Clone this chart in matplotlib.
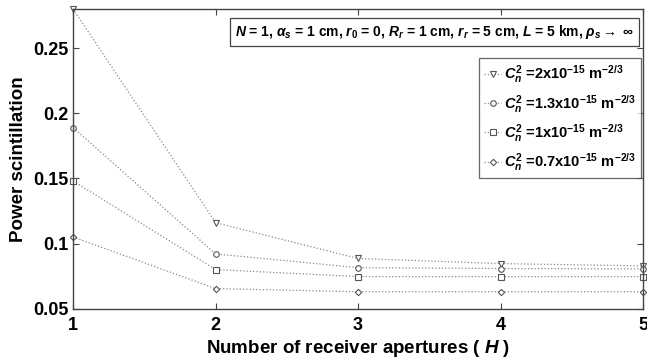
import matplotlib
matplotlib.use("Agg")
import matplotlib.pyplot as plt

# Szintillation über der Anzahl der Empfangsaperturen
apertures = [1, 2, 3, 4, 5]
scint_cn2_20 = [0.280, 0.116, 0.0885, 0.0846, 0.0828]
scint_cn2_13 = [0.189, 0.092, 0.0815, 0.0808, 0.0805]
scint_cn2_10 = [0.148, 0.080, 0.0746, 0.0746, 0.0746]
scint_cn2_07 = [0.105, 0.0654, 0.0630, 0.0630, 0.0630]

labels = [
    r"$C^{2}_{n}$ =2x10$^{-15}$ m$^{-2/3}$",
    r"$C^{2}_{n}$ =1.3x10$^{-15}$ m$^{-2/3}$",
    r"$C^{2}_{n}$ =1x10$^{-15}$ m$^{-2/3}$",
    r"$C^{2}_{n}$ =0.7x10$^{-15}$ m$^{-2/3}$",
]
markers = ["v", "o", "s", "D"]

plt.rcParams["font.family"] = ["Liberation Sans", "DejaVu Sans"]
plt.rcParams["font.weight"] = "bold"
plt.rcParams["mathtext.fontset"] = "custom"
plt.rcParams["mathtext.rm"] = "Liberation Sans:bold"
plt.rcParams["mathtext.it"] = "Liberation Sans:italic:bold"
plt.rcParams["mathtext.bf"] = "Liberation Sans:bold"

fig, ax = plt.subplots(figsize=(6.47, 3.61), dpi=100)
fig.subplots_adjust(left=0.113, right=0.994, top=0.975, bottom=0.145)

series = [scint_cn2_20, scint_cn2_13, scint_cn2_10, scint_cn2_07]
for values, marker, label in zip(series, markers, labels):
    ax.plot(apertures, values, linestyle=":", color="#8a8a8a", linewidth=0.9,
            marker=marker, markersize=4 if marker != "D" else 3.2,
            markerfacecolor="white", markeredgecolor="#555555",
            markeredgewidth=0.8, label=label, clip_on=False)

ax.set_xlim(1, 5)
ax.set_ylim(0.05, 0.28)
ax.set_xticks(apertures)
ax.set_yticks([0.05, 0.1, 0.15, 0.2, 0.25])
ax.set_yticklabels(["0.05", "0.1", "0.15", "0.2", "0.25"])
ax.tick_params(direction="in", top=True, right=True, labelsize=13, length=4,
               width=0.8, colors="#444444", labelcolor="black")
ax.tick_params(axis="x", pad=6)
for spine in ax.spines.values():
    spine.set_color("#444444")
    spine.set_linewidth(1.0)

ax.set_xlabel(r"Number of receiver apertures ( $H$ )", fontsize=13.5,
              fontweight="bold", labelpad=3)
ax.set_ylabel("Power scintillation", fontsize=13.5, fontweight="bold")

ax.text(0.984, 0.953,
        r"$N$ = 1, $\alpha_{s}$ = 1 cm, $r_{0}$ = 0, $R_{r}$ = 1 cm, "
        r"$r_{r}$ = 5 cm, $L$ = 5 km, $\rho_{s}$$\rightarrow$ $\infty$",
        transform=ax.transAxes, ha="right", va="top", fontsize=10,
        bbox=dict(boxstyle="square,pad=0.35", facecolor="white",
                  edgecolor="#444444", linewidth=0.9))

leg = ax.legend(loc="upper right", bbox_to_anchor=(0.997, 0.835), fontsize=10.5,
                frameon=True, fancybox=False, handlelength=1.2,
                handletextpad=0.2, borderpad=0.35, labelspacing=0.5,
                borderaxespad=0.0)
leg.get_frame().set_edgecolor("#444444")
leg.get_frame().set_linewidth(0.9)

fig.savefig("out.png", dpi=100)
